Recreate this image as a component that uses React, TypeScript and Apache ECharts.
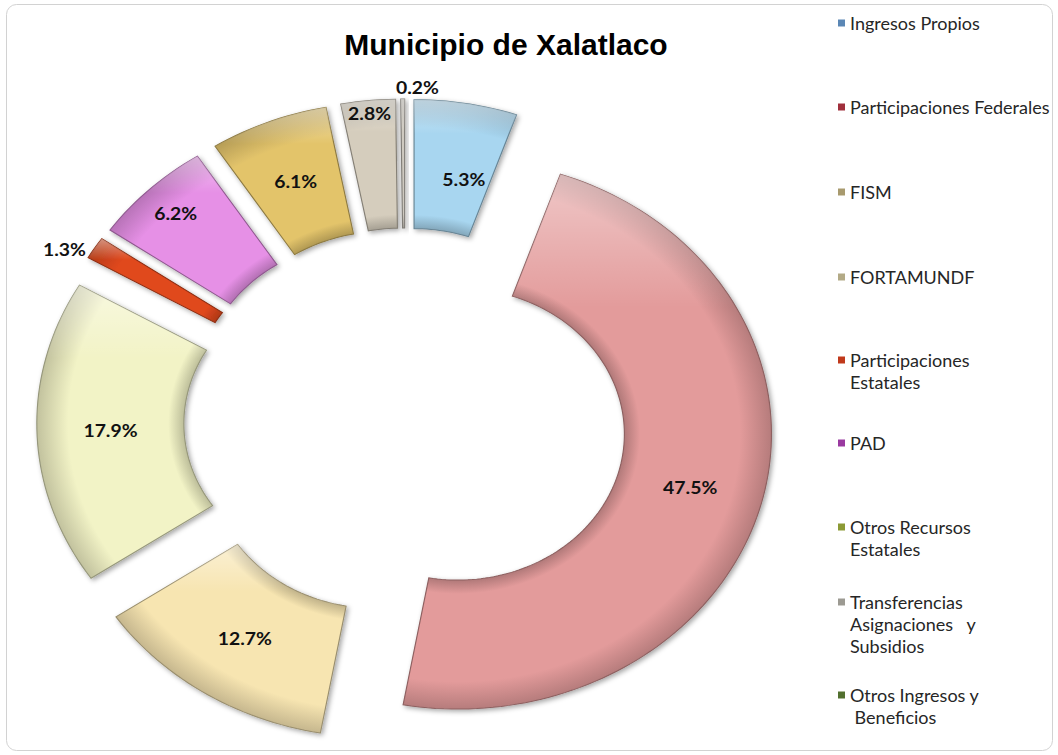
import React, { useEffect, useRef } from "react";
import * as echarts from "echarts";

// ---------- data ----------
const categories = [
  "Ingresos Propios",
  "Participaciones Federales",
  "FISM",
  "FORTAMUNDF",
  "Participaciones Estatales",
  "PAD",
  "Otros Recursos Estatales",
  "Transferencias Asignaciones y Subsidios",
  "Otros Ingresos y Beneficios",
];
const values = [5.3, 47.5, 12.7, 17.9, 1.3, 6.2, 6.1, 2.8, 0.2];
const legendLabels = [
  "Ingresos Propios",
  "Participaciones Federales",
  "FISM",
  "FORTAMUNDF",
  "Participaciones\nEstatales",
  "PAD",
  "Otros Recursos\nEstatales",
  "Transferencias\nAsignaciones   y\nSubsidios",
  "Otros Ingresos y\n Beneficios",
];
const titleText = "Municipio de Xalatlaco";

// ---------- styles ----------
const sliceColors = [
  "#a8d6f0",
  "#e39b9b",
  "#f7e5b1",
  "#f2f3c6",
  "#e0481d",
  "#e690e6",
  "#e3c46b",
  "#d5cdbd",
  "#cfcac0",
];
const legendColors = [
  "#5b87b5",
  "#a0303c",
  "#a89a6e",
  "#b3aa86",
  "#c0391b",
  "#9a3aa0",
  "#8c9a35",
  "#9c9a92",
  "#52702f",
];
// first-line centre of each legend entry (px)
const legendLineY = [23, 107, 192, 277, 360, 443, 527, 602, 695];
const LEGEND_LH = 22;

const CX = 405;
const CY = 422;
const K = 1.14; // horizontal stretch
const R_OUT = 275;
const R_IN = 146;
const EXPLODE = 48;

const labelOverrides: Record<number, { angle?: number; rho?: number; dx?: number }> = {
  0: { angle: 12, rho: 248 },
  4: { angle: 300, rho: 345 },
  5: { rho: 290 },
  7: { rho: 310 },
  8: { rho: 335, dx: 13 },
};

function shade(hex: string, f: number): string {
  const n = parseInt(hex.slice(1), 16);
  const r = Math.round(((n >> 16) & 255) * f);
  const g = Math.round(((n >> 8) & 255) * f);
  const b = Math.round((n & 255) * f);
  return `rgb(${r},${g},${b})`;
}

export default function App() {
  const ref = useRef<HTMLDivElement>(null);

  useEffect(() => {
    if (!ref.current) return;
    const chart = echarts.init(ref.current, undefined, { renderer: "svg" });
    const total = values.reduce((a, b) => a + b, 0);

    const series = categories.map((name, i) => ({
      type: "custom",
      name,
      coordinateSystem: "none",
      data: [[values[i]]],
      itemStyle: { color: sliceColors[i] },
      renderItem: (params: any, api: any) => {
        const v = api.value(0) as number;
        const before = values.slice(0, i).reduce((a, b) => a + b, 0);
        const a0 = (before / total) * Math.PI * 2;
        const a1 = ((before + v) / total) * Math.PI * 2;
        const mid = (a0 + a1) / 2;
        const ox = EXPLODE * Math.sin(mid);
        const oy = -EXPLODE * Math.cos(mid);
        const steps = Math.max(2, Math.ceil((a1 - a0) / (Math.PI / 120)));
        const pts: number[][] = [];
        for (let s = 0; s <= steps; s++) {
          const a = a0 + ((a1 - a0) * s) / steps;
          pts.push([ox + R_OUT * Math.sin(a), oy - R_OUT * Math.cos(a)]);
        }
        for (let s = steps; s >= 0; s--) {
          const a = a0 + ((a1 - a0) * s) / steps;
          pts.push([ox + R_IN * Math.sin(a), oy - R_IN * Math.cos(a)]);
        }
        const c = sliceColors[i];
        const t0 = R_IN / R_OUT;
        const fill = new echarts.graphic.RadialGradient(
          ox,
          oy,
          R_OUT,
          [
            { offset: 0, color: shade(c, 0.78) },
            { offset: t0, color: shade(c, 0.78) },
            { offset: t0 + 0.05, color: c },
            { offset: 0.9, color: c },
            { offset: 1, color: shade(c, 0.8) },
          ],
          true
        );
        const gloss = new echarts.graphic.LinearGradient(0, 0, 0, 1, [
          { offset: 0, color: "rgba(255,255,255,0.45)" },
          { offset: 0.25, color: "rgba(255,255,255,0)" },
          { offset: 1, color: "rgba(255,255,255,0)" },
        ]);
        const ov = labelOverrides[i] || {};
        const la = ov.angle !== undefined ? (ov.angle * Math.PI) / 180 : mid;
        const lr = ov.rho !== undefined ? ov.rho : (R_OUT + R_IN) / 2 + EXPLODE;
        const lx = lr * Math.sin(la) + (ov.dx || 0);
        const ly = -lr * Math.cos(la);
        return {
          type: "group",
          x: CX,
          y: CY,
          scaleX: K,
          children: [
            {
              type: "polygon",
              shape: { points: pts },
              style: {
                fill,
                stroke: shade(c, 0.62),
                lineWidth: 1,
                shadowBlur: 5,
                shadowColor: "rgba(0,0,0,0.35)",
                shadowOffsetX: 2,
                shadowOffsetY: 2,
              },
            },
            {
              type: "polygon",
              silent: true,
              shape: { points: pts },
              style: { fill: gloss },
            },
            {
              type: "text",
              x: lx,
              y: ly,
              z2: 10,
              style: {
                text: v.toFixed(1) + "%",
                fill: "#111",
                font: "bold 17px Lato",
                align: "center",
                verticalAlign: "middle",
              },
            },
          ],
        };
      },
    }));

    const legends = categories.map((name, i) => {
      const lines = legendLabels[i].split("\n");
      const n = lines.length;
      const padded = [...Array(n - 1).fill(" "), ...lines].join("\n");
      const N = 2 * n - 1;
      return {
        orient: "vertical",
        left: 838,
        top: legendLineY[i] - (N * LEGEND_LH) / 2,
        padding: 0,
        itemGap: 0,
        itemWidth: 7,
        itemHeight: 7,
        icon: "rect",
        selectedMode: false,
        data: [{ name, itemStyle: { color: legendColors[i] } }],
        formatter: () => padded,
        textStyle: {
          fontFamily: "Lato",
          fontSize: 18,
          color: "#262626",
          lineHeight: LEGEND_LH,
        },
      };
    });

    chart.setOption({
      animation: false,
      backgroundColor: "#ffffff",
      title: {
        text: titleText,
        left: 501,
        top: 24,
        textAlign: "center",
        textStyle: {
          fontFamily: "Liberation Sans, Arial",
          fontWeight: "bold",
          fontSize: 30,
          lineHeight: 30,
          color: "#000",
        },
      },
      legend: legends,
      graphic: [
        {
          type: "rect",
          silent: true,
          shape: { x: 6.5, y: 4.5, width: 1046, height: 746, r: 10 },
          style: {
            fill: "transparent",
            stroke: "#d2d2d2",
            lineWidth: 1,
          },
        },
      ],
      series,
    });

    return () => chart.dispose();
  }, []);

  return (
    <div
      ref={ref}
      style={{ position: "absolute", left: 0, top: 0, width: 1058, height: 755 }}
    />
  );
}
